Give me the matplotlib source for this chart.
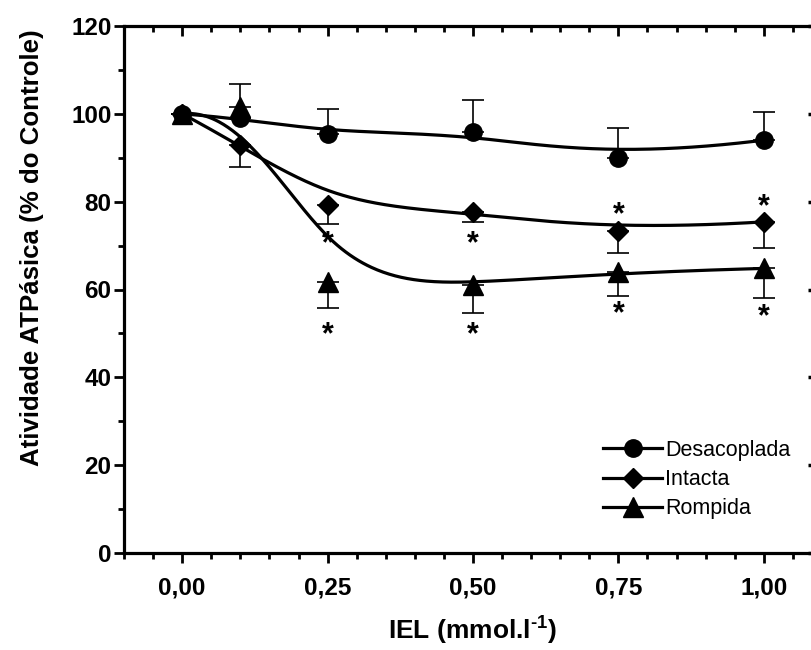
import numpy as np
import matplotlib
matplotlib.use("Agg")
import matplotlib.pyplot as plt
from matplotlib.ticker import MultipleLocator, FuncFormatter

plt.rcParams['font.family'] = ['Liberation Sans', 'DejaVu Sans']
plt.rcParams['mathtext.fontset'] = 'custom'
plt.rcParams['mathtext.rm'] = 'Liberation Sans:bold'
plt.rcParams['mathtext.bf'] = 'Liberation Sans:bold'

# IEL concentration (mmol/l)
iel = [0.0, 0.1, 0.25, 0.5, 0.75, 1.0]

# ATPase activity, % of control
desacoplada = [100.0, 99.0, 95.5, 95.8, 89.9, 94.0]
intacta = [100.0, 93.0, 79.2, 77.7, 73.4, 75.4]
rompida = [100.0, 101.5, 61.8, 61.0, 63.9, 64.8]

# SEM (one-sided bars)
desacoplada_err = [0.0, 0.0, 5.5, 7.3, 6.8, 6.5]
intacta_err = [0.0, 5.2, 4.3, 2.3, 5.2, 6.0]
rompida_err_up = [0.0, 5.4, 0.0, 0.0, 0.0, 0.0]
rompida_err_dn = [0.0, 0.0, 6.0, 6.3, 5.4, 6.7]

# significance marks (x, y)
stars_x = [0.25, 0.5, 0.75, 1.0, 0.25, 0.5, 0.75, 1.0]
stars_y = [72.0, 72.0, 78.6, 80.4, 51.3, 51.3, 56.0, 55.3]


def bspline(px, py, n=300, k=3):
    # clamped cubic B-spline using the points as control polygon
    P = np.column_stack([px, py])
    m = len(P)
    knots = np.concatenate([np.zeros(k), np.linspace(0, 1, m - k + 1), np.ones(k)])
    t = np.linspace(0, 1, n)
    N = np.zeros((n, len(knots) - 1))
    for i in range(len(knots) - 1):
        N[:, i] = (knots[i] <= t) & (t < knots[i + 1])
    N[-1, m - 1] = 1.0
    for d in range(1, k + 1):
        Nn = np.zeros((n, len(knots) - 1 - d))
        for i in range(len(knots) - 1 - d):
            a = knots[i + d] - knots[i]
            b = knots[i + d + 1] - knots[i + 1]
            left = (t - knots[i]) / a * N[:, i] if a > 0 else 0
            right = (knots[i + d + 1] - t) / b * N[:, i + 1] if b > 0 else 0
            Nn[:, i] = left + right
        N = Nn
    c = N @ P
    return c[:, 0], c[:, 1]


fig = plt.figure(figsize=(8.11, 6.5), dpi=100)
ax = fig.add_axes([124 / 811, 97 / 650, 698 / 811, 527 / 650])

lw = 2.3
for ys in (desacoplada, intacta, rompida):
    cx, cy = bspline(iel, ys)
    ax.plot(cx, cy, color='k', lw=lw, zorder=2)

ekw = dict(fmt='none', ecolor='k', elinewidth=1.2, capsize=8, capthick=1.2, zorder=3)
ax.errorbar(iel, desacoplada, yerr=[np.zeros(6), desacoplada_err], **ekw)
ax.errorbar(iel, intacta, yerr=[intacta_err, np.zeros(6)], **ekw)
ax.errorbar(iel, rompida, yerr=[rompida_err_dn, rompida_err_up], **ekw)

ax.plot(iel, desacoplada, 'o', color='k', ms=12.5, zorder=4)
ax.plot(iel, rompida, '^', color='k', ms=14, zorder=4)
ax.plot(iel, intacta, 'D', color='k', ms=10.5, zorder=5)

star_fs = 22
for sx, sy in zip(stars_x, stars_y):
    ax.annotate('*', (sx, sy), xytext=(0, -0.5 * star_fs), textcoords='offset points',
                ha='center', va='baseline', fontsize=star_fs,
                fontweight='bold', zorder=6)

ax.set_xlim(-0.1, 1.1)
ax.set_ylim(0, 120)
ax.xaxis.set_major_locator(MultipleLocator(0.25))
ax.xaxis.set_minor_locator(MultipleLocator(0.05))
ax.yaxis.set_major_locator(MultipleLocator(20))
ax.yaxis.set_minor_locator(MultipleLocator(10))
ax.xaxis.set_major_formatter(FuncFormatter(
    lambda v, p: ('%.2f' % v).replace('.', ',') if v >= -1e-9 and v <= 1.0001 else ''))

for s in ax.spines.values():
    s.set_linewidth(2.3)
ax.tick_params(which='major', direction='out', length=7, width=2, labelsize=17.5)
ax.tick_params(axis='x', which='major', pad=10)
ax.tick_params(axis='y', which='major', pad=2)
ax.tick_params(which='minor', direction='out', length=4.5, width=2)
for lab in ax.get_xticklabels() + ax.get_yticklabels():
    lab.set_fontweight('bold')

# inward ticks on the top and right sides
top = ax.secondary_xaxis('top')
top.xaxis.set_major_locator(MultipleLocator(0.25))
top.xaxis.set_minor_locator(MultipleLocator(0.05))
top.tick_params(which='major', direction='in', length=7, width=2, labeltop=False)
top.tick_params(which='minor', direction='in', length=4.5, width=2)
right = ax.secondary_yaxis('right')
right.yaxis.set_major_locator(MultipleLocator(20))
right.yaxis.set_minor_locator(MultipleLocator(10))
right.tick_params(which='major', direction='in', length=10, width=2.5, labelright=False)
right.tick_params(which='minor', direction='in', length=4.5, width=2)

ax.set_xlabel(r'IEL (mmol.l$^{\text{-}1}$)', fontsize=19, fontweight='bold',
              labelpad=10)
ax.set_ylabel('Atividade ATPásica (% do Controle)', fontsize=18.6,
              fontweight='bold')
ax.yaxis.set_label_coords(-0.115, 0.579)

h1, = ax.plot([], [], '-o', color='k', lw=lw, ms=12.5)
h2, = ax.plot([], [], '-D', color='k', lw=lw, ms=10.5)
h3, = ax.plot([], [], '-^', color='k', lw=lw, ms=14)
ax.legend([h1, h2, h3], ['Desacoplada', 'Intacta', 'Rompida'],
          loc='upper left', bbox_to_anchor=(603 / 811, (650 - 440) / 650),
          bbox_transform=fig.transFigure, frameon=False, fontsize=15.5,
          handlelength=2.75, handletextpad=0.15, labelspacing=0.38,
          borderpad=0, borderaxespad=0)

fig.savefig('out.png', dpi=100)
